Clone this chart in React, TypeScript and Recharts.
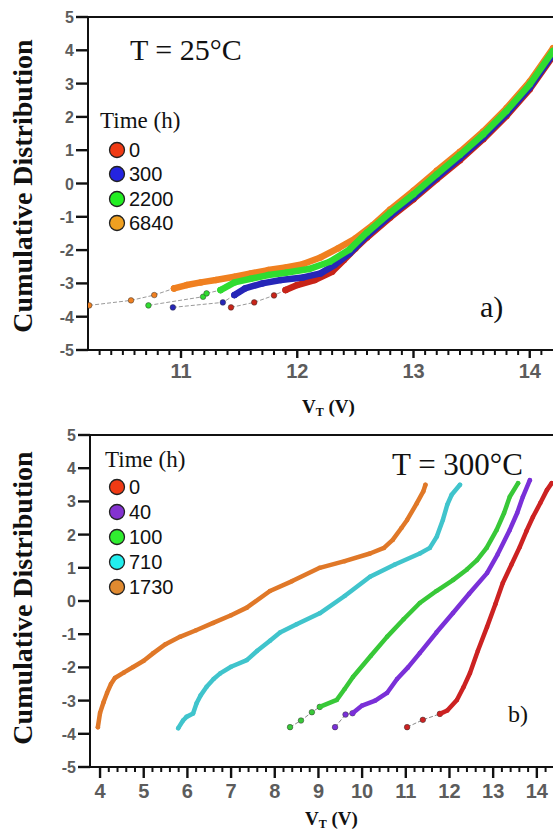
import React from "react";
import { ScatterChart, Scatter, XAxis, YAxis, ReferenceLine, Legend } from "recharts";

type Pt = [number, number];

// ---- panel a) T = 25°C ----
const aDomain: [number, number] = [10.2, 14.2];
const aTicks = [11, 12, 13, 14];
const aMinor = [
  10.3, 10.4, 10.5, 10.6, 10.7, 10.8, 10.9, 11.1, 11.2, 11.3, 11.4, 11.5, 11.6, 11.7, 11.8, 11.9,
  12.1, 12.2, 12.3, 12.4, 12.5, 12.6, 12.7, 12.8, 12.9, 13.1, 13.2, 13.3, 13.4, 13.5, 13.6, 13.7,
  13.8, 13.9, 14.1,
];
const yTicks = [-5, -4, -3, -2, -1, 0, 1, 2, 3, 4, 5];

const a0Tail: Pt[] = [[11.43, -3.72], [11.63, -3.57], [11.8, -3.36], [11.9, -3.2]];
const a0Band: Pt[] = [
  [11.9, -3.2], [12.0, -3.05], [12.15, -2.9], [12.3, -2.65], [12.4, -2.3], [12.5, -1.95], [12.6, -1.62],
  [12.8, -1.02], [13.0, -0.47], [13.2, 0.13], [13.4, 0.7], [13.6, 1.33], [13.8, 2.03], [14.0, 2.83], [14.2, 3.83],
];
const a300Tail: Pt[] = [[10.93, -3.72], [11.36, -3.57], [11.46, -3.35]];
const a300Band: Pt[] = [
  [11.46, -3.35], [11.55, -3.15], [11.7, -3.0], [11.86, -2.9], [12.05, -2.82], [12.2, -2.7], [12.32, -2.45],
  [12.45, -2.1], [12.6, -1.57], [12.8, -0.97], [13.0, -0.42], [13.2, 0.18], [13.4, 0.76], [13.6, 1.38],
  [13.8, 2.08], [14.0, 2.88], [14.2, 3.88],
];
const a2200Tail: Pt[] = [[10.72, -3.66], [11.19, -3.4], [11.22, -3.3], [11.34, -3.2]];
const a2200Band: Pt[] = [
  [11.34, -3.2], [11.46, -2.97], [11.6, -2.86], [11.75, -2.75], [11.9, -2.68], [12.1, -2.57], [12.28, -2.35],
  [12.45, -1.98], [12.6, -1.47], [12.8, -0.87], [13.0, -0.32], [13.2, 0.28], [13.4, 0.86], [13.6, 1.48],
  [13.8, 2.18], [14.0, 2.98], [14.2, 3.98],
];
const a6840Tail: Pt[] = [[10.21, -3.66], [10.57, -3.51], [10.77, -3.35], [10.94, -3.15]];
const a6840Band: Pt[] = [
  [10.94, -3.15], [11.05, -3.05], [11.17, -2.97], [11.3, -2.9], [11.46, -2.8], [11.6, -2.7], [11.75, -2.6],
  [11.9, -2.52], [12.05, -2.42], [12.2, -2.22], [12.35, -1.95], [12.5, -1.65], [12.65, -1.25], [12.8, -0.78],
  [13.0, -0.22], [13.2, 0.38], [13.4, 0.95], [13.6, 1.56], [13.8, 2.26], [14.0, 3.06], [14.2, 4.06],
];

// ---- panel b) T = 300°C ----
const bDomain: [number, number] = [3.77, 14.37];
const bTicks = [4, 5, 6, 7, 8, 9, 10, 11, 12, 13, 14];
const bMinor = [
  4.2, 4.4, 4.6, 4.8, 5.2, 5.4, 5.6, 5.8, 6.2, 6.4, 6.6, 6.8, 7.2, 7.4, 7.6, 7.8, 8.2, 8.4, 8.6, 8.8,
  9.2, 9.4, 9.6, 9.8, 10.2, 10.4, 10.6, 10.8, 11.2, 11.4, 11.6, 11.8, 12.2, 12.4, 12.6, 12.8, 13.2, 13.4,
  13.6, 13.8, 14.2,
];

const b0Tail: Pt[] = [[11.03, -3.8], [11.39, -3.58], [11.78, -3.4]];
const b0Band: Pt[] = [
  [11.78, -3.4], [11.95, -3.3], [12.17, -2.98], [12.32, -2.6], [12.47, -2.17], [12.65, -1.5], [12.86, -0.78],
  [13.05, -0.1], [13.22, 0.54], [13.42, 1.1], [13.61, 1.63], [13.76, 2.1], [13.91, 2.53], [14.08, 2.95],
  [14.23, 3.34], [14.34, 3.55],
];
const b40Tail: Pt[] = [[9.38, -3.8], [9.62, -3.42], [9.78, -3.38]];
const b40Band: Pt[] = [
  [9.78, -3.38], [10.0, -3.15], [10.3, -3.0], [10.57, -2.77], [10.8, -2.35], [11.05, -2.0], [11.32, -1.57],
  [11.7, -0.95], [12.08, -0.36], [12.45, 0.22], [12.86, 0.84], [13.1, 1.4], [13.38, 2.14], [13.55, 2.65],
  [13.68, 3.14], [13.84, 3.64],
];
const b100Tail: Pt[] = [[8.35, -3.8], [8.6, -3.6], [8.85, -3.35], [9.03, -3.19]];
const b100Band: Pt[] = [
  [9.03, -3.19], [9.42, -2.98], [9.6, -2.65], [9.79, -2.29], [10.2, -1.65], [10.57, -1.08], [10.95, -0.55],
  [11.32, -0.06], [11.7, 0.3], [12.08, 0.63], [12.4, 0.95], [12.63, 1.23], [12.85, 1.6], [13.08, 2.14],
  [13.25, 2.65], [13.38, 3.14], [13.57, 3.55],
];
const b710Band: Pt[] = [
  [5.79, -3.83], [5.9, -3.6], [5.98, -3.49], [6.13, -3.39], [6.21, -3.08], [6.3, -2.85], [6.44, -2.58],
  [6.6, -2.35], [6.75, -2.18], [7.0, -1.98], [7.36, -1.78], [7.6, -1.5], [7.89, -1.2], [8.12, -0.95],
  [8.5, -0.7], [9.03, -0.37], [9.6, 0.15], [10.18, 0.73], [10.75, 1.1], [11.32, 1.43], [11.55, 1.6],
  [11.71, 1.94], [11.85, 2.45], [11.95, 2.9], [12.05, 3.2], [12.24, 3.5],
];
const b1730Band: Pt[] = [
  [3.95, -3.8], [4.0, -3.37], [4.08, -3.05], [4.16, -2.77], [4.25, -2.5], [4.34, -2.32], [4.55, -2.15],
  [4.76, -1.99], [5.0, -1.8], [5.22, -1.57], [5.5, -1.3], [5.83, -1.08], [6.2, -0.88], [6.59, -0.66],
  [7.0, -0.43], [7.36, -0.2], [7.89, 0.3], [8.4, 0.6], [9.03, 1.0], [9.6, 1.2], [10.18, 1.43], [10.5, 1.6],
  [10.7, 1.84], [10.9, 2.2], [11.03, 2.44], [11.25, 2.94], [11.4, 3.3], [11.45, 3.5],
];

const aLegend = [
  { label: "0", color: "#f03a14" },
  { label: "300", color: "#2424e0" },
  { label: "2200", color: "#22ee22" },
  { label: "6840", color: "#f0a020" },
];
const bLegend = [
  { label: "0", color: "#f03a14" },
  { label: "40", color: "#8432d0" },
  { label: "100", color: "#30ee30" },
  { label: "710", color: "#22eeee" },
  { label: "1730", color: "#e08a30" },
];

type Series = { tail?: Pt[]; band: Pt[]; color: string };

const aSeries: Series[] = [
  { tail: a0Tail, band: a0Band, color: "#c82418" },
  { tail: a300Tail, band: a300Band, color: "#2626b8" },
  { tail: a6840Tail, band: a6840Band, color: "#f08020" },
  { tail: a2200Tail, band: a2200Band, color: "#30dc30" },
];
const bSeries: Series[] = [
  { tail: b0Tail, band: b0Band, color: "#cc2222" },
  { tail: b40Tail, band: b40Band, color: "#7a30d8" },
  { tail: b100Tail, band: b100Band, color: "#38c838" },
  { band: b710Band, color: "#40c4cc" },
  { band: b1730Band, color: "#e07828" },
];

const toObj = (arr: Pt[]) => arr.map(([v, c]) => ({ v, c }));

const SERIF = '"Liberation Serif", "Times New Roman", serif';
const SANS = '"Liberation Sans", Arial, sans-serif';
const AXIS = "#111";

const VtLabel = ({ x, y }: { x: number; y: number }) => (
  <text x={x} y={y} fontFamily={SERIF} fontWeight="bold" fontSize={19} fill="#111">
    V
    <tspan fontSize={12} dy={3}>T</tspan>
    <tspan dy={-3}> (V)</tspan>
  </text>
);

const YLabel = ({ x, y }: { x: number; y: number }) => (
  <text
    x={x}
    y={y}
    transform={`rotate(-90 ${x} ${y})`}
    textAnchor="middle"
    fontFamily="Liberation Serif"
    fontWeight="bold"
    fontSize={28}
    fill="#111"
  >
    Cumulative Distribution
  </text>
);

// x tick: long tick + label on whole volts, short tick elsewhere
const XTick = ({ x, y, payload, major, majorLen }: any) => {
  const isMajor = major.includes(payload.value);
  return (
    <g>
      <line x1={x} y1={y} x2={x} y2={y + (isMajor ? majorLen : 5)} stroke={AXIS} strokeWidth={isMajor ? 2.4 : 2} />
      {isMajor ? (
        <text x={x} y={y + majorLen + 20} textAnchor="middle" fill="#5c5c5c" fontSize={20} fontWeight={700} fontFamily={SANS}>
          {payload.value}
        </text>
      ) : null}
    </g>
  );
};

const YTick = ({ x, y, payload }: any) => (
  <g>
    <line x1={x} y1={y} x2={x + 12} y2={y} stroke={AXIS} strokeWidth={2.4} />
    <text x={x - 2} y={y + 6} textAnchor="end" fill="#5c5c5c" fontSize={16} fontWeight={700} fontFamily={SANS}>
      {payload.value}
    </text>
  </g>
);

const LegendBox = ({
  items,
  titleTop,
  left,
  firstY,
  step,
}: {
  items: { label: string; color: string }[];
  titleTop: number;
  left: number;
  firstY: number;
  step: number;
}) => (
  <div style={{ position: "relative", width: 200, height: 200 }}>
    <div
      style={{ position: "absolute", left, top: titleTop, fontFamily: SERIF, fontSize: 23, lineHeight: "23px", color: "#111", whiteSpace: "nowrap" }}
    >
      Time (h)
    </div>
    {items.map((it, i) => {
      const cy = firstY + i * step;
      return (
        <div key={it.label}>
          <svg style={{ position: "absolute", left: 108, top: cy - 9 }} width={18} height={18}>
            <circle cx={9} cy={9} r={7.5} fill={it.color} stroke="#222" strokeWidth={1.3} />
          </svg>
          <div
            style={{ position: "absolute", left: 129, top: cy - 10, fontFamily: SANS, fontSize: 20, lineHeight: "20px", color: "#111" }}
          >
            {it.label}
          </div>
        </div>
      );
    })}
  </div>
);

const Panel = ({
  top,
  height,
  axisHeight,
  yWidth,
  domain,
  ticks,
  minor,
  majorTick,
  series,
  legend,
  tailColor,
  bandWidth,
  vt,
  yl,
  children,
}: {
  top: number;
  height: number;
  axisHeight: number;
  yWidth: number;
  domain: [number, number];
  ticks: number[];
  minor: number[];
  majorTick: number;
  series: Series[];
  legend: React.ReactNode;
  tailColor: string;
  bandWidth: number;
  vt: { x: number; y: number };
  yl: { x: number; y: number };
  children?: React.ReactNode;
}) => (
  <div style={{ position: "absolute", left: 0, top, width: 553, height }}>
    <ScatterChart width={553} height={height} margin={{ top: 17, right: 0, bottom: 0, left: 0 }}>
      <XAxis
        type="number"
        dataKey="v"
        domain={domain}
        ticks={[...ticks, ...minor].sort((p, q) => p - q)}
        allowDataOverflow
        height={axisHeight}
        interval={0}
        tickSize={0}
        tickMargin={0}
        axisLine={{ stroke: AXIS, strokeWidth: 2 }}
        tickLine={false}
        tick={(p: any) => <XTick {...p} major={ticks} majorLen={majorTick} />}
        label={{ content: () => <VtLabel x={vt.x} y={vt.y} /> }}
      />
      <YAxis
        type="number"
        dataKey="c"
        domain={[-5, 5]}
        ticks={yTicks}
        allowDataOverflow
        width={yWidth}
        interval={0}
        tickSize={12}
        tickMargin={0}
        axisLine={{ stroke: AXIS, strokeWidth: 2 }}
        tickLine={false}
        tick={(p: any) => <YTick {...p} />}
        label={{ content: () => <YLabel x={yl.x} y={yl.y} /> }}
      />
      <ReferenceLine y={5} stroke={AXIS} strokeWidth={2} />
      {series.map((s, i) =>
        s.tail ? (
          <Scatter
            key={"t" + i}
            data={toObj(s.tail)}
            isAnimationActive={false}
            line={{ stroke: tailColor, strokeWidth: 1, strokeDasharray: "4 2" }}
            shape={(p: any) => <circle cx={p.cx} cy={p.cy} r={2.8} fill={s.color} stroke="#333" strokeWidth={0.5} />}
          />
        ) : null
      )}
      {series.map((s, i) => (
        <Scatter
          key={"b" + i}
          data={toObj(s.band)}
          isAnimationActive={false}
          line={{ stroke: s.color, strokeWidth: bandWidth, strokeLinejoin: "round", strokeLinecap: "round" }}
          shape={(p: any) => <circle cx={p.cx} cy={p.cy} r={bandWidth / 2} fill={s.color} />}
        />
      ))}
      <Legend
        layout="vertical"
        align="center"
        verticalAlign="middle"
        wrapperStyle={{ left: 0, top: 0, width: 200, height: 200 }}
        content={() => legend}
      />
    </ScatterChart>
    {children}
  </div>
);

const note = (text: string, left: number, top: number, size: number) => (
  <div
    style={{ position: "absolute", left, top, fontFamily: SERIF, fontSize: size, lineHeight: `${size}px`, color: "#111", whiteSpace: "nowrap" }}
  >
    {text}
  </div>
);

export default function App() {
  return (
    <div style={{ position: "absolute", left: 0, top: 0, width: 553, height: 832, background: "#fff", overflow: "hidden" }}>
      <Panel
        top={0}
        height={418}
        axisHeight={68}
        yWidth={88}
        domain={aDomain}
        ticks={aTicks}
        minor={aMinor}
        majorTick={8}
        series={aSeries}
        tailColor="#9a9a9a"
        bandWidth={6.5}
        vt={{ x: 302, y: 413 }}
        yl={{ x: 32, y: 186 }}
        legend={<LegendBox items={aLegend} titleTop={109} left={100} firstY={150} step={24.3} />}
      >
        {note("T = 25°C", 130, 35, 30)}
        {note("a)", 480, 292, 30)}
      </Panel>
      <Panel
        top={418}
        height={414}
        axisHeight={65}
        yWidth={90}
        domain={bDomain}
        ticks={bTicks}
        minor={bMinor}
        majorTick={11}
        series={bSeries}
        tailColor="#8a8a8a"
        bandWidth={4.5}
        vt={{ x: 305, y: 407 }}
        yl={{ x: 32, y: 180 }}
        legend={<LegendBox items={bLegend} titleTop={30} left={105} firstY={69} step={25} />}
      >
        {note("T = 300°C", 392, 31, 31)}
        {note("b)", 508, 284, 24)}
      </Panel>
    </div>
  );
}
